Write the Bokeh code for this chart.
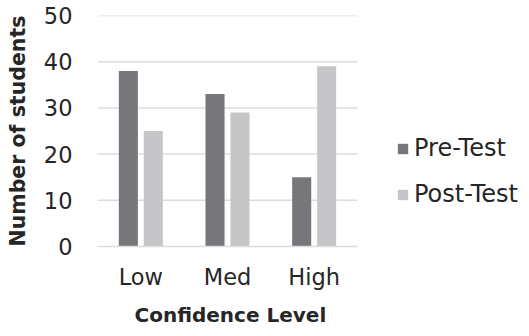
from bokeh.plotting import figure
from bokeh.models import Range1d, Legend, LegendItem, ColumnDataSource, Title
from bokeh.embed import file_html
from bokeh.resources import INLINE

# Survey results: students per confidence level, before and after the course
levels = ["Low", "Med", "High"]
pre_test = [38, 33, 15]
post_test = [25, 29, 39]
y_ticks = [0, 10, 20, 30, 40, 50]

PRE_COLOR = "#77777b"
POST_COLOR = "#c6c6c8"
TEXT_COLOR = "#262626"
GRID_COLOR = "#dcdcdc"
FONT = "DejaVu Sans"

n = len(levels)
centers = [i + 0.5 for i in range(n)]
offset = 0.144
bar_w = 0.22

source = ColumnDataSource(data=dict(
    pre_x=[c - offset for c in centers], post_x=[c + offset for c in centers],
    pre=pre_test, post=post_test,
))

# the frame also spans the legend area on the right; the category axis
# covers only the first n units of it
plot_w, frame_w = 260, 432
p = figure(
    x_range=Range1d(0, n * frame_w / plot_w),
    y_range=Range1d(0, 50),
    width=529, height=336,
    min_border_left=97, min_border_right=0,
    min_border_top=15, min_border_bottom=90,
    output_backend="svg", toolbar_location=None,
    outline_line_color=None,
)
p.xgrid.visible = False
p.ygrid.visible = False

# horizontal gridlines over the category area
p.segment(x0=0, x1=n, y0=y_ticks[1:], y1=y_ticks[1:],
          line_color=GRID_COLOR, line_width=1.5)

pre_r = p.vbar(x="pre_x", top="pre", width=bar_w, source=source,
               fill_color=PRE_COLOR, line_color=None)
post_r = p.vbar(x="post_x", top="post", width=bar_w, source=source,
                fill_color=POST_COLOR, line_color=None)

# y axis
p.yaxis.ticker = y_ticks
p.yaxis.axis_line_color = None
p.yaxis.major_tick_line_color = None
p.yaxis.minor_tick_line_color = None
p.yaxis.major_tick_out = 0
p.yaxis.major_tick_in = 0
p.yaxis.major_label_standoff = 25
p.yaxis.major_label_text_font = FONT
p.yaxis.major_label_text_font_size = "22.5px"
p.yaxis.major_label_text_color = TEXT_COLOR
p.yaxis.axis_label = "Number of students"
p.yaxis.axis_label_text_font = FONT
p.yaxis.axis_label_text_font_style = "bold"
p.yaxis.axis_label_text_font_size = "20.5px"
p.yaxis.axis_label_text_color = TEXT_COLOR
p.yaxis.axis_label_standoff = 11

# x axis (categories)
p.xaxis.bounds = (0, n)
p.xaxis.ticker = centers
p.xaxis.major_label_overrides = {c: lab for c, lab in zip(centers, levels)}
p.xaxis.axis_line_color = GRID_COLOR
p.xaxis.axis_line_width = 1.5
p.xaxis.major_tick_line_color = None
p.xaxis.minor_tick_line_color = None
p.xaxis.major_tick_out = 0
p.xaxis.major_tick_in = 0
p.xaxis.major_label_standoff = 17
p.xaxis.major_label_text_font = FONT
p.xaxis.major_label_text_font_size = "22.5px"
p.xaxis.major_label_text_color = TEXT_COLOR

# x axis title, centred under the category area
x_title = Title(
    text="Confidence Level", align="left", offset=37, standoff=17,
    text_font=FONT, text_font_style="bold", text_font_size="20px",
    text_color=TEXT_COLOR,
)
p.add_layout(x_title, "below")

legend = Legend(
    items=[LegendItem(label="Pre-Test", renderers=[pre_r]),
           LegendItem(label="Post-Test", renderers=[post_r])],
    location=(299, 38),
    orientation="vertical",
    glyph_width=13, glyph_height=13,
    label_standoff=5,
    label_text_font=FONT,
    label_text_font_size="24px",
    label_text_color=TEXT_COLOR,
    spacing=18,
    padding=0, margin=0,
    border_line_color=None,
    background_fill_alpha=0,
)
p.add_layout(legend, "center")

open("out.html", "w").write(file_html(p, INLINE))
